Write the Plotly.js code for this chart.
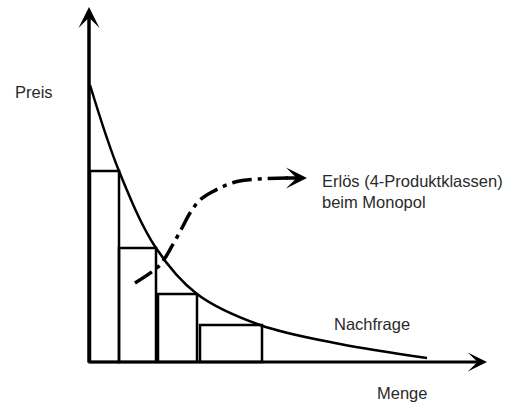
<!DOCTYPE html>
<html>
<head>
<meta charset="utf-8">
<script src="https://cdn.plot.ly/plotly-3.0.1.min.js"></script>
<style>html,body{margin:0;padding:0;background:#fff;}#chart{width:507px;height:408px;}</style>
</head>
<body>
<div id="chart"></div>
<script>
// Demand curve (Nachfrage): quantity vs. price
const demandQty   = [1, 30, 67, 108, 171, 251, 338];
const demandPrice = [277, 191, 114, 68, 37, 18, 4];

// Four product classes (rectangles): start quantity, width, price
const classStart = [1, 30, 69, 111];
const classWidth = [29, 37, 39, 62];
const classPrice = [191, 114, 68, 37];

// Revenue arrow path (Erlös)
const revQty   = [46, 69, 76, 83, 93, 101, 111, 123, 146, 168, 199];
const revValue = [79, 95, 104, 116, 134, 149, 162, 170, 180, 183, 184];

const labels = {
  y: "Preis", x: "Menge", demand: "Nachfrage",
  revenue: "Erlös (4-Produktklassen)<br>beim Monopol"
};

const font = {family: "Liberation Sans, Arial, sans-serif", size: 16.5, color: "#2a2a2a"};

const traces = [
  {
    type: "bar", x: classStart, y: classPrice, width: classWidth, offset: 0,
    marker: {color: "rgba(255,255,255,0)", line: {color: "#000", width: 2.5}},
    hoverinfo: "skip"
  },
  {
    type: "scatter", mode: "lines", x: demandQty, y: demandPrice,
    line: {color: "#000", width: 2.5, shape: "spline", smoothing: 1},
    hoverinfo: "skip"
  },
  {
    type: "scatter", mode: "lines", x: revQty, y: revValue,
    line: {color: "#000", width: 3.5, shape: "spline", smoothing: 1, dash: "20px,6px,4px,6px"},
    hoverinfo: "skip"
  }
];

const lastRevX = revQty[revQty.length - 1];
const lastRevY = revValue[revValue.length - 1];

const layout = {
  width: 507, height: 408,
  margin: {l: 0, r: 0, t: 0, b: 0},
  paper_bgcolor: "#fff", plot_bgcolor: "#fff",
  showlegend: false,
  xaxis: {range: [-89, 418], visible: false, fixedrange: true},
  yaxis: {range: [-46, 362], visible: false, fixedrange: true},
  annotations: [
    // y axis arrow
    {x: 0, y: 355, ax: 0, ay: -2, axref: "x", ayref: "y", xref: "x", yref: "y",
     showarrow: true, arrowhead: 3, arrowsize: 1, arrowwidth: 3.5, arrowcolor: "#000", text: ""},
    // x axis arrow
    {x: 398, y: 0, ax: -2, ay: 0, axref: "x", ayref: "y", xref: "x", yref: "y",
     showarrow: true, arrowhead: 3, arrowsize: 1, arrowwidth: 3.2, arrowcolor: "#000", text: ""},
    // revenue arrow head
    {x: lastRevX + 19, y: lastRevY, ax: lastRevX - 4, ay: lastRevY, axref: "x", ayref: "y", xref: "x", yref: "y",
     showarrow: true, arrowhead: 3, arrowsize: 1, arrowwidth: 3.5, arrowcolor: "#000", text: ""},
    {x: -76, y: 270, xref: "x", yref: "y", text: labels.y, showarrow: false, xanchor: "left", yanchor: "middle", font: font},
    {x: 286, y: -31, xref: "x", yref: "y", text: labels.x, showarrow: false, xanchor: "left", yanchor: "middle", font: font},
    {x: 243, y: 38, xref: "x", yref: "y", text: labels.demand, showarrow: false, xanchor: "left", yanchor: "middle", font: font},
    {x: 231, y: 171, xref: "x", yref: "y", text: labels.revenue, showarrow: false, xanchor: "left", yanchor: "middle", align: "left", font: font}
  ]
};

Plotly.newPlot("chart", traces, layout, {staticPlot: true, displayModeBar: false});
</script>
</body>
</html>
